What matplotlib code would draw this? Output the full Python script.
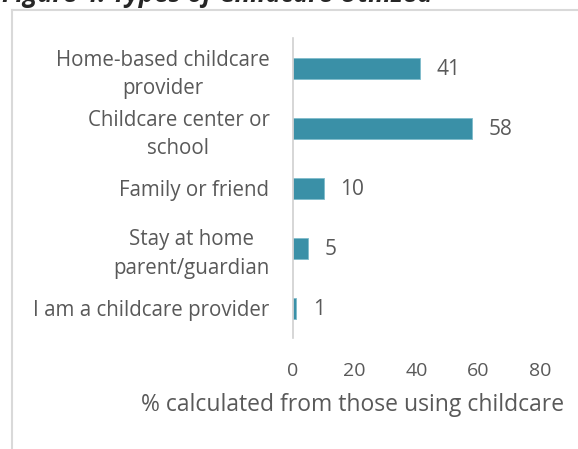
import matplotlib
matplotlib.use("Agg")
import matplotlib.pyplot as plt
from matplotlib.lines import Line2D

# Childcare types, top to bottom
categories = [
    "Home-based childcare\nprovider",
    "Childcare center or\nschool",
    "Family or friend",
    "Stay at home\nparent/guardian",
    "I am a childcare provider",
]
percent = [41, 58, 10, 5, 1]
x_ticks = [0, 20, 40, 60, 80]

BAR_COLOR = "#3A90A7"
TEXT_COLOR = "#595959"
FRAME_COLOR = "#D9D9D9"

plt.rcParams["font.family"] = ["Open Sans", "DejaVu Sans"]

W, H = 578, 449
fig = plt.figure(figsize=(W / 100, H / 100), dpi=100)
fig.patch.set_facecolor("white")

# plot area in pixel terms
left, right, top, bottom = 293, 540, 38, 338
ax = fig.add_axes([left / W, 1 - bottom / H, (right - left) / W, (bottom - top) / H])

ypos = list(range(len(categories)))
ax.barh(ypos, percent, height=0.35, color=BAR_COLOR, edgecolor="#7FBCCB", linewidth=0.6)
ax.set_ylim(len(categories) - 0.5, -0.5)
ax.set_xlim(0, 80)
ax.set_xticks(x_ticks)
ax.set_yticks(ypos)
ax.set_yticklabels(categories, multialignment="center", linespacing=1.45)

# value labels to the right of each bar
for y, v in zip(ypos, percent):
    ax.annotate(str(v), (v, y), xytext=(12, -1), textcoords="offset points",
                va="center", ha="left", fontsize=15, color=TEXT_COLOR)

for side in ["top", "right", "bottom"]:
    ax.spines[side].set_visible(False)
ax.spines["left"].set_color("#D0D0D0")
ax.spines["left"].set_linewidth(1.2)
ax.tick_params(axis="both", length=0, colors=TEXT_COLOR)
ax.tick_params(axis="y", pad=17, labelsize=14.8)
ax.tick_params(axis="x", pad=17, labelsize=14)

# axis title
fig.text(353 / W, 1 - 405 / H, "% calculated from those using childcare",
         ha="center", va="center", fontsize=16.5, color=TEXT_COLOR)

# chart frame (left and top edges)
fig.add_artist(Line2D([12 / W, 12 / W], [0, 1 - 10 / H], transform=fig.transFigure,
                      color=FRAME_COLOR, linewidth=1.5))
fig.add_artist(Line2D([12 / W, 1], [1 - 10 / H, 1 - 10 / H], transform=fig.transFigure,
                      color=FRAME_COLOR, linewidth=1.5))

# figure caption sitting above the frame
fig.text(2 / W, 1 - 2 / H, "Figure 4: Types of Childcare Utilized",
         ha="left", va="baseline", fontsize=18.5, fontweight="bold", fontstyle="italic",
         color="#262626")

fig.savefig("out.png", dpi=100)
